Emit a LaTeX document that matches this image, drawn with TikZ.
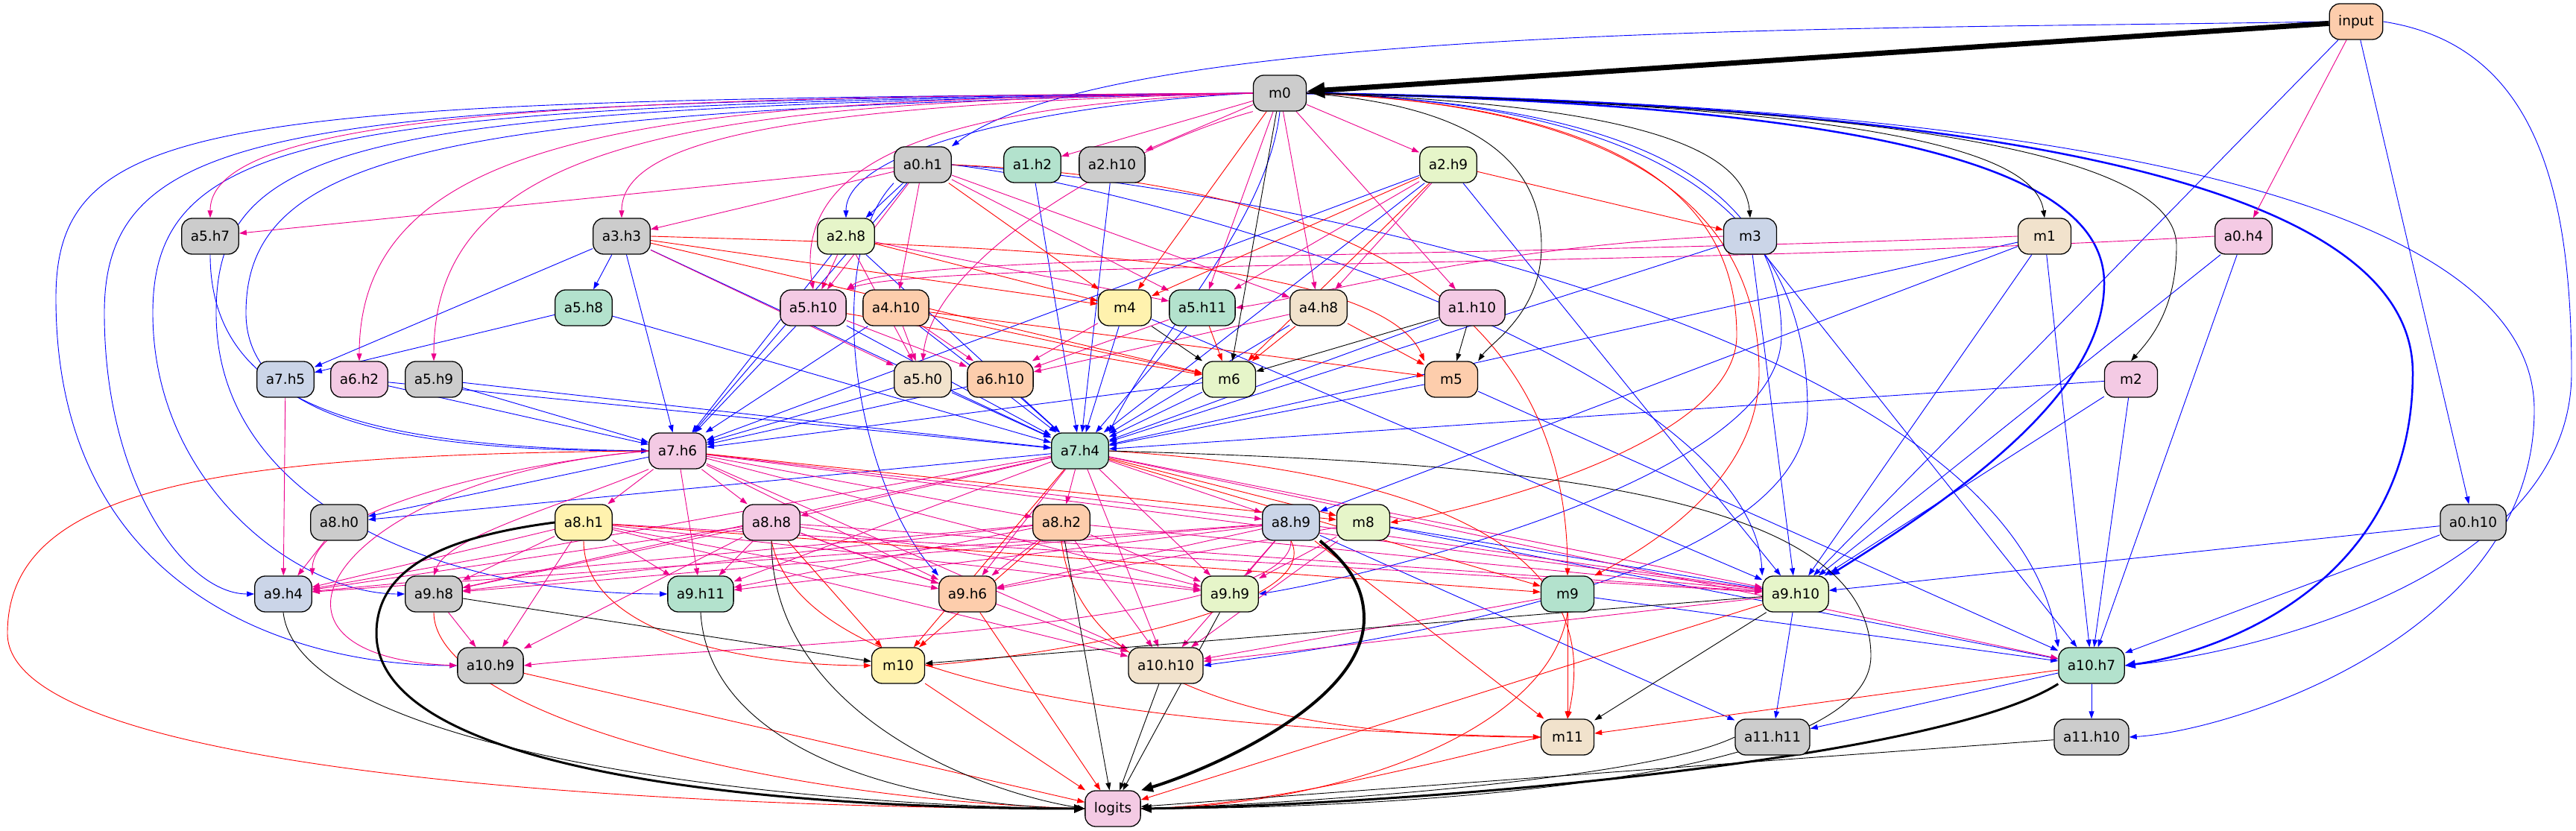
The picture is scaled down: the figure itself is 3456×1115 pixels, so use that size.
\documentclass[tikz,border=0pt]{standalone}
\usepackage{fontspec}
\setmainfont{DejaVu Sans}
\usetikzlibrary{arrows.meta}
\pgfdeclarelayer{edges}
\pgfsetlayers{edges,main}
\definecolor{cgray}{HTML}{CCCCCC}
\definecolor{cteal}{HTML}{B3E2CD}
\definecolor{corange}{HTML}{FDCDAC}
\definecolor{cblue}{HTML}{CBD5E8}
\definecolor{cpink}{HTML}{F4CAE4}
\definecolor{clime}{HTML}{E6F5C9}
\definecolor{cyell}{HTML}{FFF2AE}
\definecolor{cbeige}{HTML}{F1E2CC}
\begin{document}
\begin{tikzpicture}[x=0.3pt,y=-0.3pt,
 base/.style={draw=black,line width=0.39pt,rounded corners=4.2pt,minimum height=14.4pt,minimum width=21.3pt,inner xsep=3.6pt,inner ysep=0.6pt,font=\fontsize{5.55}{6.6}\selectfont,text=black},
 cgr/.style={base,fill=cgray}, cte/.style={base,fill=cteal}, cor/.style={base,fill=corange},
 cbl/.style={base,fill=cblue}, cpk/.style={base,fill=cpink}, cli/.style={base,fill=clime},
 cye/.style={base,fill=cyell}, cbe/.style={base,fill=cbeige},
 tip/.style={-{Triangle[length=3pt,width=2.1pt]}},
 eb/.style={draw=blue,line width=0.27pt,tip},
 em/.style={draw=magenta,line width=0.27pt,tip},
 er/.style={draw=red,line width=0.27pt,tip},
 ek/.style={draw=black,line width=0.27pt,tip},
 thk/.style={line width=0.9pt,-{Triangle[length=4.2pt,width=3.3pt]}}]
\useasboundingbox (0,0) rectangle (3456,1115);
% nodes
\node[cor] (input) at (3161,29) {input};
\node[cgr] (m0) at (1717,125) {m0};
\node[cgr] (a0h1) at (1238,221) {a0.h1};
\node[cte] (a1h2) at (1385,221) {a1.h2};
\node[cgr] (a2h10) at (1492,221) {a2.h10};
\node[cli] (a2h9) at (1943,221) {a2.h9};
\node[cgr] (a5h7) at (282,317) {a5.h7};
\node[cgr] (a3h3) at (834,317) {a3.h3};
\node[cli] (a2h8) at (1135,317) {a2.h8};
\node[cbl] (m3) at (2348,317) {m3};
\node[cbe] (m1) at (2743,317) {m1};
\node[cpk] (a0h4) at (3010,317) {a0.h4};
\node[cte] (a5h8) at (783,413) {a5.h8};
\node[cpk] (a5h10) at (1091,413) {a5.h10};
\node[cor] (a4h10) at (1202,413) {a4.h10};
\node[cye] (m4) at (1509,413) {m4};
\node[cte] (a5h11) at (1613,413) {a5.h11};
\node[cbe] (a4h8) at (1769,413) {a4.h8};
\node[cpk] (a1h10) at (1975,413) {a1.h10};
\node[cbl] (a7h5) at (383,509) {a7.h5};
\node[cpk] (a6h2) at (482,509) {a6.h2};
\node[cgr] (a5h9) at (582,509) {a5.h9};
\node[cbe] (a5h0) at (1238,509) {a5.h0};
\node[cor] (a6h10) at (1342,509) {a6.h10};
\node[cli] (m6) at (1649,509) {m6};
\node[cor] (m5) at (1947,509) {m5};
\node[cpk] (m2) at (2859,509) {m2};
\node[cpk] (a7h6) at (909,605) {a7.h6};
\node[cte] (a7h4) at (1449,605) {a7.h4};
\node[cgr] (a8h0) at (455,701) {a8.h0};
\node[cye] (a8h1) at (783,701) {a8.h1};
\node[cpk] (a8h8) at (1035,701) {a8.h8};
\node[cor] (a8h2) at (1424,701) {a8.h2};
\node[cbl] (a8h9) at (1732,701) {a8.h9};
\node[cli] (m8) at (1829,701) {m8};
\node[cgr] (a0h10) at (3318,701) {a0.h10};
\node[cbl] (a9h4) at (380,797) {a9.h4};
\node[cgr] (a9h8) at (582,797) {a9.h8};
\node[cte] (a9h11) at (940,797) {a9.h11};
\node[cor] (a9h6) at (1298,797) {a9.h6};
\node[cli] (a9h9) at (1650,797) {a9.h9};
\node[cte] (m9) at (2103,797) {m9};
\node[cli] (a9h10) at (2409,797) {a9.h10};
\node[cgr] (a10h9) at (658,893) {a10.h9};
\node[cye] (m10) at (1205,893) {m10};
\node[cbe] (a10h10) at (1564,893) {a10.h10};
\node[cte] (a10h7) at (2806,893) {a10.h7};
\node[cbe] (m11) at (2103,989) {m11};
\node[cgr] (a11h11) at (2378,989) {a11.h11};
\node[cgr] (a11h10) at (2806,989) {a11.h10};
\node[cpk] (logits) at (1493,1085) {logits};
\begin{pgfonlayer}{edges}
% ---------- blue
\foreach \s/\t in {input/a0h10, input/a9h10, a0h1/a2h8, a0h1/a7h6,
 a3h3/a5h8, a3h3/a7h5, a3h3/a7h6, a3h3/a7h4, a5h8/a7h5, a5h8/a7h4,
 a6h2/a7h6, a6h2/a7h4, a5h9/a7h6, a5h9/a7h4, a2h8/a7h6, a2h8/a7h4,
 a5h10/a7h6, a5h10/a7h4, a4h10/a7h6, a4h10/a7h4, a1h2/a7h4, a2h10/a7h4,
 a2h9/a7h6, a2h9/a7h4, a2h9/a9h10, a5h0/a7h6, a5h0/a7h4, a6h10/a7h6, a6h10/a7h4,
 m4/a7h4, m4/a9h10, a5h11/a7h4, m6/a7h6, m6/a7h4, a4h8/a7h4, a1h10/a7h4,
 m5/a7h4, m5/a10h7, m2/a7h4, m2/a9h10, m2/a10h7, m3/a7h4, m3/a9h10, m3/a10h7,
 m1/a7h4, m1/a8h9, m1/a9h10, m1/a10h7, a0h4/a9h10, a0h4/a10h7,
 a0h10/a9h10, a0h10/a10h7, a7h6/a8h0, a7h4/a8h0, m8/a9h10, m8/a10h7, m9/a10h7,
 a8h9/a11h11, a9h10/a11h11, a10h7/a11h11, a10h7/a11h10}
 \draw[eb] (\s) -- (\t);
\draw[eb] (input.west) .. controls (2500,40) and (1500,30) .. (a0h1.north east);
\draw[eb] (input.east) .. controls (3400,60) and (3450,250) .. (3450,500) .. controls (3450,780) and (3000,880) .. (a10h7.east);
\draw[eb] (m0.west) .. controls (1400,140) and (1135,200) .. (a2h8.north);
\draw[eb] (m0.west) .. controls (600,147) and (330,200) .. (330,420) .. controls (330,580) and (600,605) .. (a7h6.west);
\draw[eb] (m0.west) .. controls (500,144) and (290,180) .. (290,420) .. controls (290,680) and (600,797) .. (a9h11.west);
\draw[eb] (m0.west) .. controls (450,141) and (205,170) .. (205,420) .. controls (205,650) and (400,797) .. (a9h8.west);
\draw[eb] (m0.west) .. controls (400,138) and (140,160) .. (140,420) .. controls (140,650) and (250,797) .. (a9h4.west);
\draw[eb] (m0.west) .. controls (300,135) and (75,150) .. (75,400) .. controls (75,800) and (400,893) .. (a10h9.west);
\draw[eb] (m0.south) .. controls (1700,300) and (1550,450) .. (a7h4.north east);
\draw[eb,line width=0.75pt,-{Triangle[length=4.2pt,width=3.3pt]}] (m0.east) .. controls (2500,140) and (2823,220) .. (2823,380) .. controls (2823,520) and (2650,650) .. (a9h10.north east);
\draw[eb,line width=0.75pt,-{Triangle[length=4.2pt,width=3.3pt]}] (m0.east) .. controls (2700,140) and (3237,250) .. (3237,500) .. controls (3237,800) and (2950,880) .. (a10h7.east);
\draw[eb] (m0.east) .. controls (2900,140) and (3400,300) .. (3400,550) .. controls (3400,850) and (3000,980) .. (a11h10.east);
\draw[eb] (m0.east) .. controls (2200,140) and (2390,250) .. (2390,450) .. controls (2390,650) and (1800,780) .. (a9h9.east);
\draw[eb] (m0.east) .. controls (2250,140) and (2425,300) .. (2425,550) .. controls (2425,800) and (1700,880) .. (a10h10.east);
\draw[eb] (a0h1.east) .. controls (1600,260) and (2350,500) .. (a9h10.north west);
\draw[eb] (a0h1.east) .. controls (1700,250) and (2700,450) .. (a10h7.north west);
\draw[eb] (a0h1.south west) .. controls (1100,350) and (1150,650) .. (a9h6.north west);
\draw[eb] (a5h7.south) .. controls (282,550) and (500,600) .. (a7h6.west);
% ---------- magenta
\foreach \s/\t in {input/a0h4, m0/a1h2, m0/a2h10, m0/a2h9, m0/a5h11, m0/a4h8, m0/a1h10,
 a0h1/a5h7, a0h1/a3h3, a0h1/a4h10, a0h1/a5h11, a0h1/a4h8, a0h1/a5h10,
 a2h8/a5h10, a2h8/a5h11, a2h8/a5h0, a2h9/a5h11, a2h9/a4h8,
 a3h3/a5h0, a4h10/a5h0, a4h10/a6h10, m4/a6h10, a4h8/a6h10, a5h11/a6h10, a5h10/a6h10,
 a7h5/a9h4, a7h6/a8h1, a7h6/a8h8, a7h6/a8h2, a7h6/a8h9, a7h6/a9h11, a7h6/a9h6, a7h6/a9h9, a7h6/a10h10, a7h6/a9h10,
 a7h4/a8h8, a7h4/a8h2, a7h4/a8h9, a7h4/a9h4, a7h4/a9h8, a7h4/a9h11, a7h4/a9h6, a7h4/a9h9, a7h4/a10h10, a7h4/a10h7, a7h4/a9h10,
 a8h0/a9h4, a8h1/a9h4, a8h1/a9h8, a8h1/a9h11, a8h1/a10h9, a8h1/a9h6, a8h1/a9h9, a8h1/a10h10, a8h1/a9h10,
 a8h8/a9h4, a8h8/a9h8, a8h8/a9h11, a8h8/a10h9, a8h8/a9h6, a8h8/a9h9, a8h8/a10h10, a8h8/a9h10,
 a8h2/a9h4, a8h2/a9h8, a8h2/a9h11, a8h2/a9h6, a8h2/a9h9, a8h2/a10h10, a8h2/a9h10,
 a8h9/a9h4, a8h9/a9h8, a8h9/a9h11, a8h9/a9h6, a8h9/a9h9, a8h9/a10h10, a8h9/a9h10,
 m8/a9h9, m8/a10h10, m8/a9h6, m9/a10h10, a9h8/a10h9, a9h10/a10h10}
 \draw[em] (\s) -- (\t);
\draw[em] (m0.west) .. controls (800,130) and (282,150) .. (a5h7.north);
\draw[em] (m0.west) .. controls (900,133) and (482,170) .. (a6h2.north);
\draw[em] (m0.west) .. controls (950,136) and (582,180) .. (a5h9.north);
\draw[em] (m0.west) .. controls (1100,140) and (834,180) .. (a3h3.north);
\draw[em] (m0.west) .. controls (1300,140) and (1060,200) .. (a5h10.north);
\draw[em] (m0.south west) .. controls (1500,200) and (1250,350) .. (a5h0.north);
\draw[em] (m1.west) .. controls (2000,345) and (1200,340) .. (a5h10.north east);
\draw[em] (a0h4.west) .. controls (2200,360) and (1250,350) .. (a5h10.north east);
\draw[em] (m3.west) .. controls (2000,330) and (1750,400) .. (a5h11.east);
\draw[em] (a7h6.west) .. controls (700,620) and (420,680) .. (a9h4.north east);
\draw[em] (a7h6.south west) .. controls (750,680) and (600,720) .. (a9h8.north);
\draw[em] (a7h6.west) .. controls (450,640) and (300,880) .. (a10h9.west);
\draw[em] (a8h9.south) .. controls (1735,850) and (900,870) .. (a10h9.east);
% ---------- red
\foreach \s/\t in {a2h9/m3, a0h1/m4, m0/m4, a3h3/m4, a2h8/m4, a2h9/m4,
 a5h11/m6, a4h8/m6, a2h9/m6, a3h3/m6, a4h10/m6, a5h10/m6, a4h8/m5, a4h10/m5,
 a7h6/m8, a7h4/m8, a7h4/m9, a8h1/m9, a8h8/m10, a7h4/m10, a8h2/m10,
 a8h9/m11, m9/m11, a10h7/m11, a9h6/logits, a10h9/logits, m10/logits, a9h10/logits}
 \draw[er] (\s) -- (\t);
\draw[er] (a3h3.east) .. controls (1300,330) and (1850,340) .. (m5.north west);
\draw[er] (m0.east) .. controls (2150,140) and (2330,250) .. (2330,450) .. controls (2330,600) and (1950,690) .. (m8.east);
\draw[er] (m0.east) .. controls (2180,140) and (2360,280) .. (2360,500) .. controls (2360,650) and (2200,740) .. (m9.north east);
\draw[er] (a0h1.east) .. controls (1700,240) and (2103,350) .. (m9.north);
\draw[er] (a8h1.south) .. controls (783,850) and (1000,893) .. (m10.west);
\draw[er] (a8h9.south) .. controls (1780,820) and (1400,880) .. (m10.east);
\draw[er] (a7h4.east) .. controls (2050,640) and (2140,800) .. (m11.north);
\draw[er] (a8h2.south) .. controls (1450,950) and (1800,989) .. (m11.west);
\draw[er] (a8h8.south) .. controls (1080,950) and (1700,980) .. (m11.west);
\draw[er] (a9h8.south) .. controls (582,950) and (1000,1070) .. (logits.west);
\draw[er] (m9.south) .. controls (2080,980) and (1800,1080) .. (logits.east);
\draw[er] (m11.west) .. controls (1900,1030) and (1700,1080) .. (logits.east);
\draw[er] (a7h6.west) .. controls (300,610) and (10,650) .. (10,850) .. controls (10,1050) and (1000,1085) .. (logits.west);
% ---------- black
\foreach \s/\t in {m0/m6, m4/m6, a1h10/m6, a1h10/m5, a9h8/m10, a9h10/m10, a9h10/m11,
 a8h2/logits, a10h10/logits, a9h9/logits, a11h10/logits}
 \draw[ek] (\s) -- (\t);
\draw[ek,line width=2.1pt,-{Triangle[length=7.2pt,width=6pt]}] (input) -- (m0);
\draw[ek] (m0.east) .. controls (2200,140) and (2340,200) .. (m3.north);
\draw[ek] (m0.east) .. controls (2500,140) and (2730,200) .. (m1.north);
\draw[ek] (m0.east) .. controls (2500,140) and (2920,200) .. (2920,330) .. controls (2920,420) and (2880,460) .. (m2.north);
\draw[ek] (m0.east) .. controls (1950,140) and (2068,200) .. (2068,330) .. controls (2068,420) and (2000,460) .. (m5.north east);
\draw[ek] (a9h4.south) .. controls (400,1000) and (1000,1080) .. (logits.west);
\draw[ek] (a9h11.south) .. controls (950,1000) and (1200,1080) .. (logits.west);
\draw[ek] (a8h8.south) .. controls (1035,950) and (1300,1060) .. (logits.west);
\draw[ek] (a11h11.west) .. controls (2200,1050) and (1700,1080) .. (logits.east);
\draw[ek] (a7h4.east) .. controls (2000,620) and (2510,650) .. (2510,880) .. controls (2510,1060) and (1800,1085) .. (logits.east);
\draw[ek,thk] (a8h1.west) .. controls (600,720) and (505,760) .. (505,850) .. controls (505,1030) and (1000,1085) .. (logits.west);
\draw[ek,line width=1.2pt,-{Triangle[length=4.8pt,width=3.9pt]}] (a8h9.south east) .. controls (1800,750) and (1830,780) .. (1830,830) .. controls (1830,950) and (1600,1040) .. (logits.north east);
\draw[ek,thk] (a10h7.south west) .. controls (2600,1020) and (1900,1080) .. (logits.east);
\end{pgfonlayer}
\end{tikzpicture}
\end{document}
